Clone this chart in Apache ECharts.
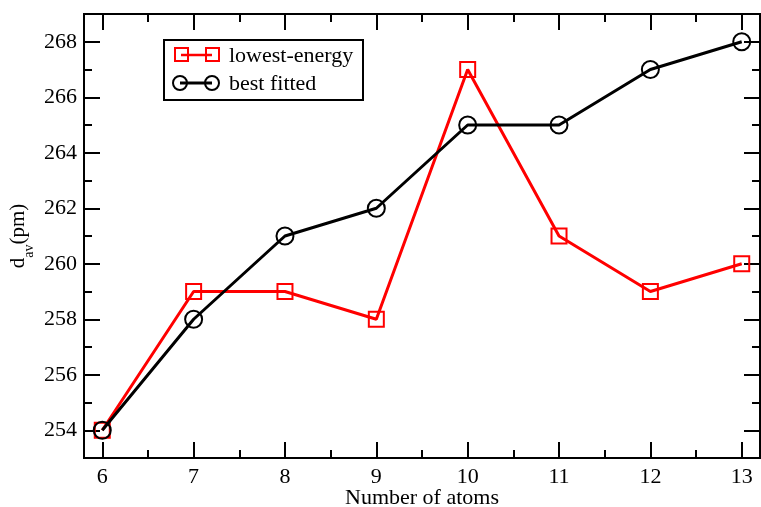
<!DOCTYPE html>
<html>
<head>
<meta charset="utf-8">
<script src="https://cdn.jsdelivr.net/npm/echarts@6/dist/echarts.min.js"></script>
<style>
  html, body { margin: 0; padding: 0; background: #fff; }
  #chart { width: 761px; height: 507px; }
</style>
</head>
<body>
<div id="chart"></div>
<script>
// data
var atoms = [6, 7, 8, 9, 10, 11, 12, 13];
var lowestEnergy = [254, 259, 259, 258, 267, 261, 259, 260];
var bestFitted = [254, 258, 261, 262, 265, 265, 267, 268];
var seriesNames = ['lowest-energy', 'best fitted'];
var xMajor = [6, 7, 8, 9, 10, 11, 12, 13];
var xMinor = [6.5, 7.5, 8.5, 9.5, 10.5, 11.5, 12.5];
var yMajor = [254, 256, 258, 260, 262, 264, 266, 268];
var yMinor = [253, 255, 257, 259, 261, 263, 265, 267];

var FONT = '"Liberation Serif", "DejaVu Serif", serif';
var FS = 22;

function pairs(xs, ys) {
    return xs.map(function (x, i) { return [x, ys[i]]; });
}

function xAx(pos, ticks, len, showLabel) {
    return {
        type: 'value', position: pos, min: 5.8, max: 13.2,
        axisLine: { show: true, onZero: false, lineStyle: { color: '#000', width: 2 } },
        axisTick: { show: true, inside: true, length: len, customValues: ticks, lineStyle: { color: '#000', width: 2 } },
        axisLabel: showLabel ? { show: true, customValues: ticks, margin: 8, fontFamily: FONT, fontSize: FS, color: '#000' } : { show: false },
        splitLine: { show: false }
    };
}

function yAx(pos, ticks, len, showLabel) {
    return {
        type: 'value', position: pos, min: 253, max: 269,
        axisLine: { show: true, onZero: false, lineStyle: { color: '#000', width: 2 } },
        axisTick: { show: true, inside: true, length: len, customValues: ticks, lineStyle: { color: '#000', width: 2 } },
        axisLabel: showLabel ? { show: true, customValues: ticks, margin: 7, fontFamily: FONT, fontSize: FS, color: '#000' } : { show: false },
        splitLine: { show: false }
    };
}

var chart = echarts.init(document.getElementById('chart'));

var xAxes = [
    xAx('bottom', xMajor, 16, true),
    xAx('bottom', xMinor, 8, false),
    xAx('top', xMajor, 16, false),
    xAx('top', xMinor, 8, false)
];
xAxes[0].name = 'Number of atoms';
xAxes[0].nameLocation = 'middle';
xAxes[0].nameGap = 29;
xAxes[0].nameMoveOverlap = false;
xAxes[0].nameTextStyle = { fontFamily: FONT, fontSize: FS, color: '#000' };

var yAxes = [
    yAx('left', yMajor, 16, true),
    yAx('left', yMinor, 8, false),
    yAx('right', yMajor, 16, false),
    yAx('right', yMinor, 8, false)
];
yAxes[0].name = '{a|d}{b|av}{a|(pm)}';
yAxes[0].nameLocation = 'middle';
yAxes[0].nameGap = 55;
yAxes[0].nameMoveOverlap = false;
yAxes[0].nameTextStyle = {
    rich: {
        a: { fontFamily: FONT, fontSize: 21, color: '#000', verticalAlign: 'bottom' },
        b: { fontFamily: FONT, fontSize: 14, color: '#000', verticalAlign: 'bottom', padding: [0, 0, -7, 0] }
    }
};

// legend drawn as graphic (line with a symbol at each end)
var legendGraphic = [
    { type: 'rect', shape: { x: 164, y: 40, width: 199, height: 60 }, style: { fill: '#fff', stroke: '#000', lineWidth: 2 }, z: 100 },
    { type: 'line', shape: { x1: 181, y1: 55, x2: 212, y2: 55 }, style: { stroke: '#ff0000', lineWidth: 2.5 }, z: 101 },
    { type: 'rect', shape: { x: 175, y: 48, width: 13, height: 13 }, style: { fill: 'transparent', stroke: '#ff0000', lineWidth: 2 }, z: 102 },
    { type: 'rect', shape: { x: 206, y: 48, width: 13, height: 13 }, style: { fill: 'transparent', stroke: '#ff0000', lineWidth: 2 }, z: 102 },
    { type: 'text', x: 229, y: 56, style: { text: seriesNames[0], fontFamily: FONT, fontSize: FS, fill: '#000', verticalAlign: 'middle' }, z: 102 },
    { type: 'line', shape: { x1: 180, y1: 83, x2: 212, y2: 83 }, style: { stroke: '#000', lineWidth: 3 }, z: 101 },
    { type: 'circle', shape: { cx: 180, cy: 83, r: 7 }, style: { fill: 'transparent', stroke: '#000', lineWidth: 2 }, z: 102 },
    { type: 'circle', shape: { cx: 212, cy: 83, r: 7 }, style: { fill: 'transparent', stroke: '#000', lineWidth: 2 }, z: 102 },
    { type: 'text', x: 229, y: 84, style: { text: seriesNames[1], fontFamily: FONT, fontSize: FS, fill: '#000', verticalAlign: 'middle' }, z: 102 }
];

var option = {
    animation: false,
    backgroundColor: '#fff',
    grid: { left: 84, right: 1, top: 14, bottom: 49, outerBoundsMode: 'none', containLabel: false },
    xAxis: xAxes,
    yAxis: yAxes,
    graphic: legendGraphic,
    series: [
        {
            name: seriesNames[0], type: 'line', data: pairs(atoms, lowestEnergy),
            symbol: 'rect', symbolSize: 15,
            lineStyle: { color: '#ff0000', width: 3 },
            itemStyle: { color: 'transparent', borderColor: '#ff0000', borderWidth: 2 },
            z: 3
        },
        {
            name: seriesNames[1], type: 'line', data: pairs(atoms, bestFitted),
            symbol: 'circle', symbolSize: 17,
            lineStyle: { color: '#000', width: 3 },
            itemStyle: { color: 'transparent', borderColor: '#000', borderWidth: 2 },
            z: 4
        }
    ]
};

chart.setOption(option);
</script>
</body>
</html>
